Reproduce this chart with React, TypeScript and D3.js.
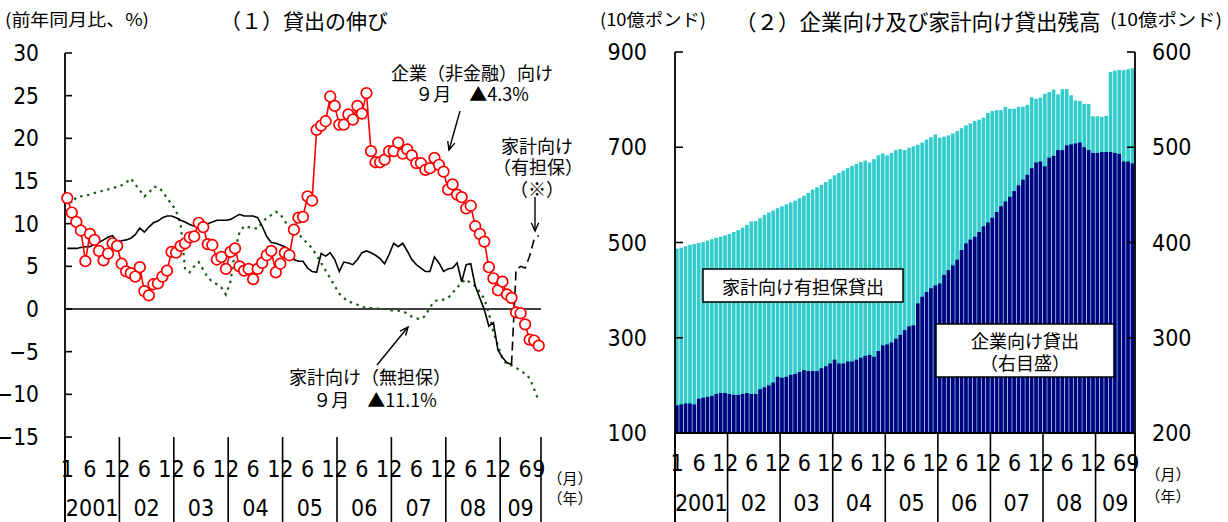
import React from 'react';
import * as d3 from 'd3';

// ---------- data ----------
const N = 105; // Jan 2001 .. Sep 2009
const YEAR_LABELS = ['2001', '02', '03', '04', '05', '06', '07', '08', '09'];
const MONTHS_IN_YEAR = [12, 12, 12, 12, 12, 12, 12, 12, 9];
const MONTH_LABELS_FIRST = ['1', '6', '12'];
const MONTH_LABELS_MID = ['6', '12'];
const MONTH_LABELS_LAST = ['6', '9'];

// (1) growth, y/y %
const corporateGrowth = [
  13.0, 11.3, 10.2, 9.2, 5.6, 8.8, 8.1, 6.8, 5.7, 6.5, 7.7, 7.4,
  5.3, 4.4, 4.2, 3.8, 4.9, 2.1, 1.6, 2.9, 3.0, 3.8, 4.5, 6.7,
  6.6, 7.4, 7.7, 8.4, 8.5, 10.1, 9.6, 7.6, 7.5, 5.8, 6.1, 4.7,
  6.7, 7.1, 5.0, 4.5, 4.7, 3.5, 4.7, 5.4, 6.3, 6.8, 4.3, 5.3,
  6.6, 6.3, 9.3, 10.7, 10.8, 13.2, 12.7, 21.0, 21.5, 22.0, 24.9, 23.8,
  21.6, 21.6, 22.8, 22.2, 23.8, 22.9, 25.3, 18.5, 17.2, 17.2, 17.5, 18.5,
  18.5, 19.5, 18.2, 18.7, 18.0, 17.1, 17.1, 16.3, 16.5, 17.7, 16.9, 16.1,
  14.0, 14.6, 13.4, 13.1, 11.8, 12.1, 9.7, 8.8, 7.9, 4.9, 3.6, 2.2,
  3.2, 1.7, 1.3, -0.4, -0.5, -1.8, -3.6, -3.7, -4.3,
];
const householdSecuredGrowth = [
  7.1, 7.1, 7.1, 7.2, 7.3, 7.3, 7.6, 7.8, 8.1, 8.4, 8.6, 7.9,
  8.0, 8.1, 8.3, 8.7, 9.5, 9.0, 9.6, 10.1, 10.3, 10.7, 10.9, 10.9,
  10.7, 10.4, 10.2, 9.9, 9.7, 9.9, 9.8, 10.0, 10.2, 10.4, 10.4, 10.4,
  10.5, 10.8, 11.1, 10.9, 10.9, 10.9, 10.7, 9.7, 8.5, 7.8, 7.7, 7.5,
  7.3, 6.6, 5.8, 5.6, 5.6, 4.8, 4.4, 4.3, 6.5, 6.2, 6.6, 5.8,
  4.4, 5.5, 5.4, 5.2, 5.8, 6.6, 6.8, 6.6, 6.3, 5.9, 5.3, 6.4,
  7.7, 7.3, 7.7, 6.8, 5.8, 5.2, 4.8, 4.4, 4.4, 6.1, 5.4, 4.4,
  4.7, 4.8, 5.4, 3.2, 5.2, 5.3, 2.7, 1.3, -0.1, -2.0, -1.6, -4.8,
  -5.7, -6.3, -6.5, 4.6, 5.0, 4.8, 6.2, 8.2, 8.6,
];
const SECURED_BREAK = 98; // dashed (※) from here on
const householdUnsecuredGrowth = [
  13.4, 12.4, 13.1, 13.2, 13.3, 13.4, 13.6, 13.7, 13.9, 14.0, 14.2, 14.3,
  14.5, 14.8, 15.3, 14.6, 13.9, 13.2, 13.6, 14.3, 14.3, 13.8, 13.0, 12.3,
  11.5, 10.0, 4.6, 4.3, 5.0, 5.5, 4.6, 3.7, 3.2, 2.9, 2.5, 1.7,
  3.2, 6.8, 9.0, 9.7, 9.6, 9.5, 9.4, 10.1, 10.7, 11.0, 11.4, 11.1,
  10.3, 9.5, 9.1, 8.8, 8.2, 7.7, 7.1, 6.3, 5.4, 4.5, 3.6, 2.7,
  1.8, 1.3, 0.9, 0.7, 0.5, 0.3, 0.1, 0.1, 0.1, 0.0, 0.0, -0.1,
  -0.2, -0.2, -0.3, -0.5, -0.9, -1.1, -1.2, -0.8, 0.2, 0.9, 1.1, 1.1,
  1.3, 1.9, 2.5, 3.1, 3.5, 3.0, 2.7, 2.0, 1.2, -0.5, -2.7, -4.3,
  -5.8, -6.5, -6.6, -6.9, -7.2, -7.6, -8.1, -9.4, -10.8,
];

// (2) outstanding, GBP bn
const householdSecuredStock = [
  487, 489, 492, 495, 497, 499, 501, 504, 507, 510, 512, 515,
  518, 522, 526, 531, 537, 544, 545, 551, 558, 563, 567, 572,
  576, 580, 584, 588, 593, 598, 604, 611, 616, 621, 627, 633,
  641, 646, 651, 656, 661, 665, 669, 672, 668, 675, 683, 687,
  683, 688, 694, 696, 694, 699, 702, 705, 710, 716, 721, 727,
  720, 722, 725, 729, 734, 740, 746, 750, 755, 758, 762, 772,
  776, 778, 778, 785, 781, 781, 785, 785, 789, 805, 802, 804,
  812, 816, 821, 811, 822, 822, 809, 798, 797, 791, 791, 765,
  765, 764, 766, 858, 861, 862, 862, 864, 866,
];
const corporateStock = [
  229, 230, 231, 231, 230, 236, 237, 238, 239, 241, 242, 242,
  241, 240, 240, 241, 242, 241, 241, 246, 248, 250, 253, 259,
  258, 259, 261, 262, 264, 266, 265, 265, 265, 268, 270, 273,
  277, 273, 273, 275, 275, 277, 279, 281, 282, 280, 286, 292,
  293, 295, 299, 303, 308, 312, 313, 336, 343, 348, 352, 355,
  357, 366, 371, 376, 382, 392, 399, 403, 406, 411, 417, 421,
  426, 432, 438, 443, 448, 454, 460, 466, 471, 478, 484, 485,
  480, 489, 491, 497, 497, 502, 503, 504, 505, 500, 497, 494,
  494, 495, 495, 495, 494, 493, 485, 485, 483,
];

const LEFT_TICKS = [30, 25, 20, 15, 10, 5, 0, -5, -10, -15];
const STOCK_LEFT_TICKS = [900, 700, 500, 300, 100];
const STOCK_RIGHT_TICKS = [600, 500, 400, 300, 200];

// ---------- style ----------
const NUM_FONT = '"Liberation Sans Narrow", "DejaVu Sans Condensed", "Arial Narrow", sans-serif';
const JP_FONT = '"Noto Sans CJK JP", "Noto Sans CJK SC", sans-serif';
const RED = '#ff0000';
const GREEN = '#1d5a1d';
const CYAN = '#33cccc';
const NAVY = '#000080';

function Arrow({ x1, y1, x2, y2 }: { x1: number; y1: number; x2: number; y2: number }) {
  const a = Math.atan2(y2 - y1, x2 - x1);
  const L = 9;
  const s = 0.42;
  const p1 = [x2 - L * Math.cos(a - s), y2 - L * Math.sin(a - s)];
  const p2 = [x2 - L * Math.cos(a + s), y2 - L * Math.sin(a + s)];
  return (
    <g stroke="#000" strokeWidth={1.4} fill="none">
      <line x1={x1} y1={y1} x2={x2} y2={y2} />
      <polyline points={`${p1[0]},${p1[1]} ${x2},${y2} ${p2[0]},${p2[1]}`} />
    </g>
  );
}

function monthLabelsFor(y: number) {
  if (y === 0) return MONTH_LABELS_FIRST;
  if (y === YEAR_LABELS.length - 1) return MONTH_LABELS_LAST;
  return MONTH_LABELS_MID;
}

function XAxis({ x, top, monthY, yearY, right }: { x: d3.ScaleBand<number>; top: number; monthY: number; yearY: number; right: number }) {
  const starts = [0, ...d3.cumsum(MONTHS_IN_YEAR)].slice(0, YEAR_LABELS.length + 1);
  const bw = x.bandwidth();
  return (
    <g>
      {starts.map((s, k) => {
        const xx = k === YEAR_LABELS.length ? right : (x(s) as number);
        return <line key={'d' + k} x1={xx} x2={xx} y1={top} y2={522} stroke="#000" strokeWidth={1.6} />;
      })}
      {YEAR_LABELS.map((lab, k) => {
        const s = starts[k];
        const labels = monthLabelsFor(k);
        const x0 = x(s) as number;
        const x1 = k === YEAR_LABELS.length - 1 ? right : (x(starts[k + 1]) as number);
        return (
          <g key={'y' + k}>
            {labels.map((m) => (
              <text key={m} x={(x(s + Number(m) - 1) as number) + bw / 2} y={monthY} textAnchor="middle" dominantBaseline="central" fontFamily={NUM_FONT} fontSize={23}>
                {m}
              </text>
            ))}
            <text x={(x0 + x1) / 2} y={yearY} textAnchor="middle" dominantBaseline="central" fontFamily={NUM_FONT} fontSize={23}>
              {lab}
            </text>
          </g>
        );
      })}
    </g>
  );
}

export default function App() {
  const months = d3.range(N);

  // ---- panel 1 ----
  const xL = d3.scaleBand<number>().domain(months).range([65, 541]);
  const yL = d3.scaleLinear().domain([-15, 30]).range([437, 53]);
  const cxL = (i: number) => (xL(i) as number) + xL.bandwidth() / 2;
  const lineL = d3
    .line<number>()
    .x((_, i) => cxL(i))
    .y((d) => yL(d));
  const lineIdx = d3
    .line<number>()
    .x((i) => cxL(i))
    .y((i) => yL(householdSecuredGrowth[i]));

  const securedSolid = lineIdx(d3.range(0, SECURED_BREAK + 1)) || '';
  const securedDashed = lineIdx(d3.range(SECURED_BREAK, N)) || '';

  // ---- panel 2 ----
  const xR = d3.scaleBand<number>().domain(months).range([675, 1135]);
  const yRL = d3.scaleLinear().domain([100, 900]).range([433, 52]);
  const yRR = d3.scaleLinear().domain([200, 600]).range([433, 52]);
  const barW = xR.bandwidth() - 0.75;

  return (
    <svg width={1228} height={522} style={{ position: 'absolute', left: 0, top: 0, background: '#fff' }}>
      <rect x={0} y={0} width={1228} height={522} fill="#fff" />

      {/* ===== Panel 1 ===== */}
      <text x={5} y={18} dominantBaseline="central" fontFamily={JP_FONT} fontSize={17} textLength={144} lengthAdjust="spacingAndGlyphs">
        (前年同月比、%)
      </text>
      <text x={304} y={20} textAnchor="middle" dominantBaseline="central" fontFamily={JP_FONT} fontSize={21}>
        （１）貸出の伸び
      </text>

      {/* y axis */}
      <line x1={65} x2={65} y1={53} y2={522} stroke="#000" strokeWidth={1.8} />
      {LEFT_TICKS.map((t) => (
        <g key={t}>
          <line x1={65} x2={72} y1={yL(t)} y2={yL(t)} stroke="#000" strokeWidth={1.6} />
          <text x={39} y={yL(t)} textAnchor="end" dominantBaseline="central" fontFamily={NUM_FONT} fontSize={22.5}>
            {t < 0 ? '\u2212' + Math.abs(t) : t}
          </text>
        </g>
      ))}
      <line x1={65} x2={541} y1={yL(0)} y2={yL(0)} stroke="#000" strokeWidth={1.6} />

      {/* series */}
      <path d={lineL(householdUnsecuredGrowth) || ''} fill="none" stroke={GREEN} strokeWidth={2.2} strokeDasharray="2.5 4.5" />
      <path d={securedSolid} fill="none" stroke="#000" strokeWidth={1.6} />
      <path d={securedDashed} fill="none" stroke="#000" strokeWidth={1.6} strokeDasharray="9 5" />
      <path d={lineL(corporateGrowth) || ''} fill="none" stroke={RED} strokeWidth={1.6} />
      {corporateGrowth.map((v, i) => (
        <circle key={i} cx={cxL(i)} cy={yL(v)} r={5.3} fill="#fff" stroke={RED} strokeWidth={1.7} />
      ))}

      {/* annotations */}
      <g fontFamily={JP_FONT} fontSize={18} textAnchor="middle" dominantBaseline="central">
        <text x={472} y={72}>企業（非金融）向け</text>
        <text x={472} y={93}>９月　▲4.3%</text>
        <text x={537} y={145}>家計向け</text>
        <text x={538} y={166}>（有担保）</text>
        <text x={537} y={188}>（※）</text>
        <text x={370} y={376}>家計向け（無担保）</text>
        <text x={375} y={399}>９月　▲11.1%</text>
      </g>
      <Arrow x1={460} y1={111} x2={449} y2={150} />
      <Arrow x1={535} y1={197} x2={535} y2={231} />
      <Arrow x1={377} y1={365} x2={408} y2={327} />

      <XAxis x={xL} top={437} monthY={469} yearY={508} right={541} />
      <g fontFamily={JP_FONT} fontSize={15} textAnchor="middle" dominantBaseline="central">
        <text x={570} y={477}>（月）</text>
        <text x={570} y={497}>（年）</text>
      </g>

      {/* ===== Panel 2 ===== */}
      <text x={600} y={18} dominantBaseline="central" fontFamily={JP_FONT} fontSize={17.5} textLength={106} lengthAdjust="spacingAndGlyphs">
        (10億ポンド)
      </text>
      <text x={735} y={20} dominantBaseline="central" fontFamily={JP_FONT} fontSize={21.5}>
        （２）企業向け及び家計向け貸出残高
      </text>
      <text x={1110} y={18} dominantBaseline="central" fontFamily={JP_FONT} fontSize={17.5} textLength={112} lengthAdjust="spacingAndGlyphs">
        (10億ポンド)
      </text>

      {/* bars */}
      {householdSecuredStock.map((v, i) => (
        <rect key={'c' + i} x={xR(i) as number} y={yRL(v)} width={barW} height={433 - yRL(v)} fill={CYAN} />
      ))}
      {corporateStock.map((v, i) => (
        <rect key={'n' + i} x={xR(i) as number} y={yRR(v)} width={barW} height={433 - yRR(v)} fill={NAVY} />
      ))}

      {/* axes */}
      <line x1={675} x2={675} y1={52} y2={522} stroke="#000" strokeWidth={1.8} />
      <line x1={1135} x2={1135} y1={52} y2={522} stroke="#000" strokeWidth={1.8} />
      <line x1={675} x2={1135} y1={433} y2={433} stroke="#000" strokeWidth={2} />
      {STOCK_LEFT_TICKS.map((t) => (
        <g key={'l' + t}>
          <line x1={675} x2={683} y1={yRL(t)} y2={yRL(t)} stroke="#000" strokeWidth={1.6} />
          <text x={647} y={yRL(t)} textAnchor="end" dominantBaseline="central" fontFamily={NUM_FONT} fontSize={23}>
            {t}
          </text>
        </g>
      ))}
      {STOCK_RIGHT_TICKS.map((t) => (
        <g key={'r' + t}>
          <line x1={1127} x2={1135} y1={yRR(t)} y2={yRR(t)} stroke="#000" strokeWidth={1.6} />
          <text x={1152} y={yRR(t)} textAnchor="start" dominantBaseline="central" fontFamily={NUM_FONT} fontSize={23}>
            {t}
          </text>
        </g>
      ))}

      {/* boxes */}
      <rect x={703} y={269} width={200} height={33} fill="#fff" stroke="#000" strokeWidth={1.5} />
      <text x={803} y={286} textAnchor="middle" dominantBaseline="central" fontFamily={JP_FONT} fontSize={18}>
        家計向け有担保貸出
      </text>
      <rect x={936} y={324} width={178} height={53} fill="#fff" stroke="#000" strokeWidth={1.5} />
      <g fontFamily={JP_FONT} fontSize={18} textAnchor="middle" dominantBaseline="central">
        <text x={1025} y={340}>企業向け貸出</text>
        <text x={1025} y={362}>（右目盛）</text>
      </g>

      <XAxis x={xR} top={433} monthY={463} yearY={503} right={1135} />
      <g fontFamily={JP_FONT} fontSize={15} textAnchor="middle" dominantBaseline="central">
        <text x={1168} y={473}>（月）</text>
        <text x={1168} y={495}>（年）</text>
      </g>
    </svg>
  );
}
